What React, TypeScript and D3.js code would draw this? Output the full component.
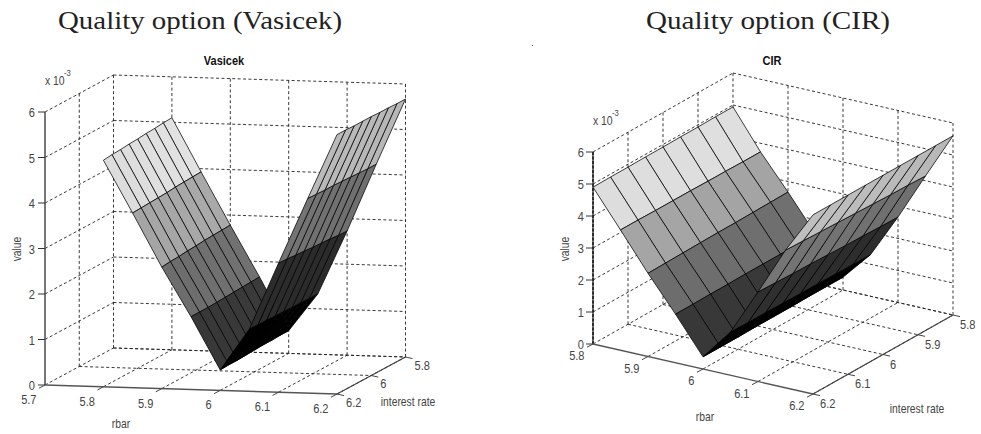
import React from "react";
import * as d3 from "d3";

// ---- data (values in units of 10^-3) ----
const gridRbar = [5.8, 5.85, 5.9, 5.95, 6.0, 6.05, 6.1, 6.15, 6.2];
const gridRate = [5.8, 5.85, 5.9, 5.95, 6.0, 6.05, 6.1, 6.15, 6.2];

const vasicekValues = [
  [5.1, 5.09, 5.07, 5.06, 5.04, 5.03, 5.01, 5.0, 4.98],
  [3.93, 3.92, 3.91, 3.9, 3.88, 3.87, 3.86, 3.85, 3.84],
  [2.78, 2.77, 2.76, 2.75, 2.73, 2.72, 2.7, 2.69, 2.67],
  [1.66, 1.65, 1.64, 1.63, 1.62, 1.61, 1.6, 1.6, 1.6],
  [0.5, 0.5, 0.49, 0.49, 0.48, 0.47, 0.46, 0.46, 0.45],
  [1.33, 1.33, 1.34, 1.34, 1.35, 1.35, 1.36, 1.36, 1.37],
  [2.73, 2.74, 2.76, 2.77, 2.78, 2.8, 2.81, 2.83, 2.84],
  [4.22, 4.22, 4.23, 4.24, 4.25, 4.26, 4.26, 4.27, 4.28],
  [5.67, 5.67, 5.68, 5.68, 5.69, 5.69, 5.69, 5.7, 5.7],
];
const cirValues = [
  [4.94, 4.94, 4.93, 4.93, 4.92, 4.92, 4.91, 4.91, 4.9],
  [3.73, 3.73, 3.74, 3.74, 3.75, 3.75, 3.75, 3.76, 3.76],
  [2.67, 2.66, 2.65, 2.64, 2.64, 2.63, 2.62, 2.61, 2.6],
  [1.55, 1.55, 1.54, 1.54, 1.54, 1.53, 1.53, 1.52, 1.52],
  [0.4, 0.4, 0.4, 0.39, 0.39, 0.39, 0.38, 0.38, 0.38],
  [1.3, 1.31, 1.31, 1.32, 1.32, 1.33, 1.34, 1.34, 1.35],
  [2.67, 2.68, 2.7, 2.71, 2.73, 2.75, 2.76, 2.78, 2.8],
  [4.15, 4.17, 4.18, 4.2, 4.22, 4.24, 4.26, 4.28, 4.3],
  [5.6, 5.6, 5.6, 5.6, 5.6, 5.6, 5.6, 5.6, 5.6],
];
const valueTicks = [0, 1, 2, 3, 4, 5, 6];
const vasicekRbarTicks = [5.7, 5.8, 5.9, 6, 6.1, 6.2];
const vasicekRateTicks = [5.8, 6, 6.2];
const cirRbarTicks = [5.8, 5.9, 6, 6.1, 6.2];
const cirRateTicks = [5.8, 5.9, 6, 6.1, 6.2];

const FONT = "'Liberation Sans', Arial, sans-serif";

function Label({ x, y, text, anchor = "middle", size = 13.5, sx = 0.82, weight = "normal", rotate = 0, fill = "#444" }: any) {
  return (
    <text
      transform={`translate(${x},${y}) rotate(${rotate}) scale(${sx},1)`}
      textAnchor={anchor}
      fontFamily={FONT}
      fontSize={size}
      fontWeight={weight}
      fill={fill}
    >
      {text}
    </text>
  );
}

function Panel({ cfg, values, rbarTicks, rateTicks }: any) {
  const xR = d3.scaleLinear().domain(cfg.rbarDomain).range([0, cfg.rbarVec[0]]);
  const yR = d3.scaleLinear().domain(cfg.rbarDomain).range([0, cfg.rbarVec[1]]);
  const xI = d3.scaleLinear().domain([6.2, 5.8]).range([0, cfg.rateVec[0]]);
  const yI = d3.scaleLinear().domain([6.2, 5.8]).range([0, cfg.rateVec[1]]);
  const yZ = d3.scaleLinear().domain([0, 6]).range([0, -cfg.zHeight]);
  const P = (r: number, i: number, z: number): [number, number] => [
    cfg.origin[0] + xR(r) + xI(i),
    cfg.origin[1] + yR(r) + yI(i) + yZ(z),
  ];
  const line = d3.line();
  const seg = (a: [number, number], b: [number, number]) => line([a, b]) as string;

  const [r0, r1] = cfg.rbarDomain;
  const gridPaths: string[] = [];
  valueTicks.forEach((z) => {
    gridPaths.push(seg(P(r0, 5.8, z), P(r1, 5.8, z)));
    gridPaths.push(seg(P(r0, 6.2, z), P(r0, 5.8, z)));
  });
  rbarTicks.filter((r: number) => r > r0).forEach((r: number) => {
    gridPaths.push(seg(P(r, 5.8, 0), P(r, 5.8, 6)));
    gridPaths.push(seg(P(r, 6.2, 0), P(r, 5.8, 0)));
  });
  rateTicks.filter((i: number) => i < 6.2).forEach((i: number) => {
    gridPaths.push(seg(P(r0, i, 0), P(r0, i, 6)));
    gridPaths.push(seg(P(r0, i, 0), P(r1, i, 0)));
  });

  const flat: number[] = values.flat();
  const [zMin, zMax] = d3.extent(flat) as [number, number];
  const gray = d3.scaleLinear().domain([zMin, zMax]).range([0, 255]);

  const facets: { d: string; fill: string; key: string }[] = [];
  for (let a = 0; a < gridRbar.length - 1; a++) {
    for (let b = 0; b < gridRate.length - 1; b++) {
      const pts = [
        P(gridRbar[a], gridRate[b], values[a][b]),
        P(gridRbar[a + 1], gridRate[b], values[a + 1][b]),
        P(gridRbar[a + 1], gridRate[b + 1], values[a + 1][b + 1]),
        P(gridRbar[a], gridRate[b + 1], values[a][b + 1]),
      ];
      const g = Math.round(gray(values[a][b]));
      facets.push({ d: (line(pts) as string) + "Z", fill: `rgb(${g},${g},${g})`, key: `${a}-${b}` });
    }
  }

  const tickLen = 7;
  const fmt = (v: number) => String(v);

  return (
    <g>
      <g fill="none" stroke="#222" strokeWidth={0.9} strokeDasharray="3 2.4">
        {gridPaths.map((d, i) => (
          <path key={i} d={d} />
        ))}
      </g>

      {/* axes */}
      <path d={seg(P(r0, 6.2, 0), P(r0, 6.2, 6))} stroke="#555" strokeWidth={1.6} fill="none" />
      {cfg.dashedZ && (
        <path d={seg(P(r0, 6.2, 0), P(r0, 6.2, 6))} stroke="#000" strokeWidth={1.2} strokeDasharray="3 1.5" fill="none" />
      )}
      <path d={seg(P(r0, 6.2, 0), P(r1, 6.2, 0))} stroke="#555" strokeWidth={1.4} fill="none" />
      <path d={seg(P(r1, 6.2, 0), P(r1, 5.8, 0))} stroke="#444" strokeWidth={1.2} fill="none" />

      {/* surface */}
      <g stroke="#000" strokeWidth={0.75} strokeLinejoin="round">
        {facets.map((f) => (
          <path key={f.key} d={f.d} fill={f.fill} />
        ))}
      </g>

      {/* value axis ticks and labels */}
      {valueTicks.map((z) => {
        const [x, y] = P(r0, 6.2, z);
        return (
          <g key={z}>
            <line x1={x - tickLen} x2={x} y1={y} y2={y} stroke="#333" strokeWidth={1} />
            <Label x={x + cfg.zLabelDx} y={y + 5} text={fmt(z)} anchor="end" />
          </g>
        );
      })}

      {/* rbar ticks and labels */}
      {rbarTicks.map((r: number) => {
        const [x, y] = P(r, 6.2, 0);
        return (
          <g key={r}>
            <line x1={x - 6} y1={y + 3.2} x2={x} y2={y} stroke="#444" strokeWidth={1} />
            <Label x={x - 8.5} y={y + cfg.rbarLabelDy} text={fmt(r)} anchor="end" />
          </g>
        );
      })}

      {/* interest rate ticks and labels */}
      {rateTicks.map((i: number) => {
        const [x, y] = P(r1, i, 0);
        return (
          <g key={i}>
            <line x1={x} y1={y} x2={x + 7} y2={y + 1.6} stroke="#444" strokeWidth={1} />
            <Label x={x + cfg.rateLabelDx} y={y + cfg.rateLabelDy} text={fmt(i)} anchor="start" />
          </g>
        );
      })}

      <Label x={cfg.exp[0]} y={cfg.exp[1] + 4.5} text="x 10" anchor="start" size={13} sx={0.8} />
      <Label x={cfg.exp[0] + 19} y={cfg.exp[1] - 4} text="-3" anchor="start" size={8.5} sx={0.9} />
      <Label x={cfg.title[0]} y={cfg.title[1] + 4} text={cfg.titleText} size={12} sx={0.92} weight="bold" fill="#111" />
      <Label x={cfg.rateTitle[0]} y={cfg.rateTitle[1] + 4} text="interest rate" size={12} sx={0.86} />
      <Label x={cfg.rbarTitle[0]} y={cfg.rbarTitle[1] + 4} text="rbar" size={12} sx={0.86} />
      <Label x={cfg.valueTitle[0] + 4} y={cfg.valueTitle[1]} text="value" size={12} sx={0.86} rotate={-90} />
    </g>
  );
}

const vasicekCfg = {
  origin: [45, 385],
  rbarDomain: [5.7, 6.2],
  rbarVec: [292, 9],
  rateVec: [68.5, -37],
  zHeight: 273,
  zLabelDx: -10,
  rbarLabelDy: 19,
  rateLabelDx: 9,
  rateLabelDy: 12.5,
  exp: [45, 80],
  title: [224, 61],
  titleText: "Vasicek",
  rateTitle: [408, 402],
  rbarTitle: [121, 424],
  valueTitle: [17, 249],
};
const cirCfg = {
  origin: [593, 344],
  rbarDomain: [5.8, 6.2],
  rbarVec: [220, 50],
  rateVec: [140, -79],
  zHeight: 192,
  zLabelDx: -9,
  rbarLabelDy: 16,
  rateLabelDx: 7,
  rateLabelDy: 14,
  exp: [593, 120],
  title: [772, 61],
  titleText: "CIR",
  dashedZ: true,
  rateTitle: [917, 409],
  rbarTitle: [705, 417],
  valueTitle: [565, 249],
};

export default function App() {
  return (
    <svg
      width={981}
      height={434}
      viewBox="0 0 981 434"
      style={{ position: "absolute", left: 0, top: 0, display: "block", background: "#fff" }}
    >
      <text
        x={58}
        y={29}
        fontFamily="'Liberation Serif', serif"
        fontSize={26}
        fill="#222"
        textLength={284}
        lengthAdjust="spacingAndGlyphs"
      >
        Quality option (Vasicek)
      </text>
      <text
        x={646}
        y={29}
        fontFamily="'Liberation Serif', serif"
        fontSize={26}
        fill="#222"
        textLength={244}
        lengthAdjust="spacingAndGlyphs"
      >
        Quality option (CIR)
      </text>
      <rect x={532} y={45} width={1} height={1} fill="#3344cc" />
      <Panel cfg={vasicekCfg} values={vasicekValues} rbarTicks={vasicekRbarTicks} rateTicks={vasicekRateTicks} />
      <Panel cfg={cirCfg} values={cirValues} rbarTicks={cirRbarTicks} rateTicks={cirRateTicks} />
    </svg>
  );
}
